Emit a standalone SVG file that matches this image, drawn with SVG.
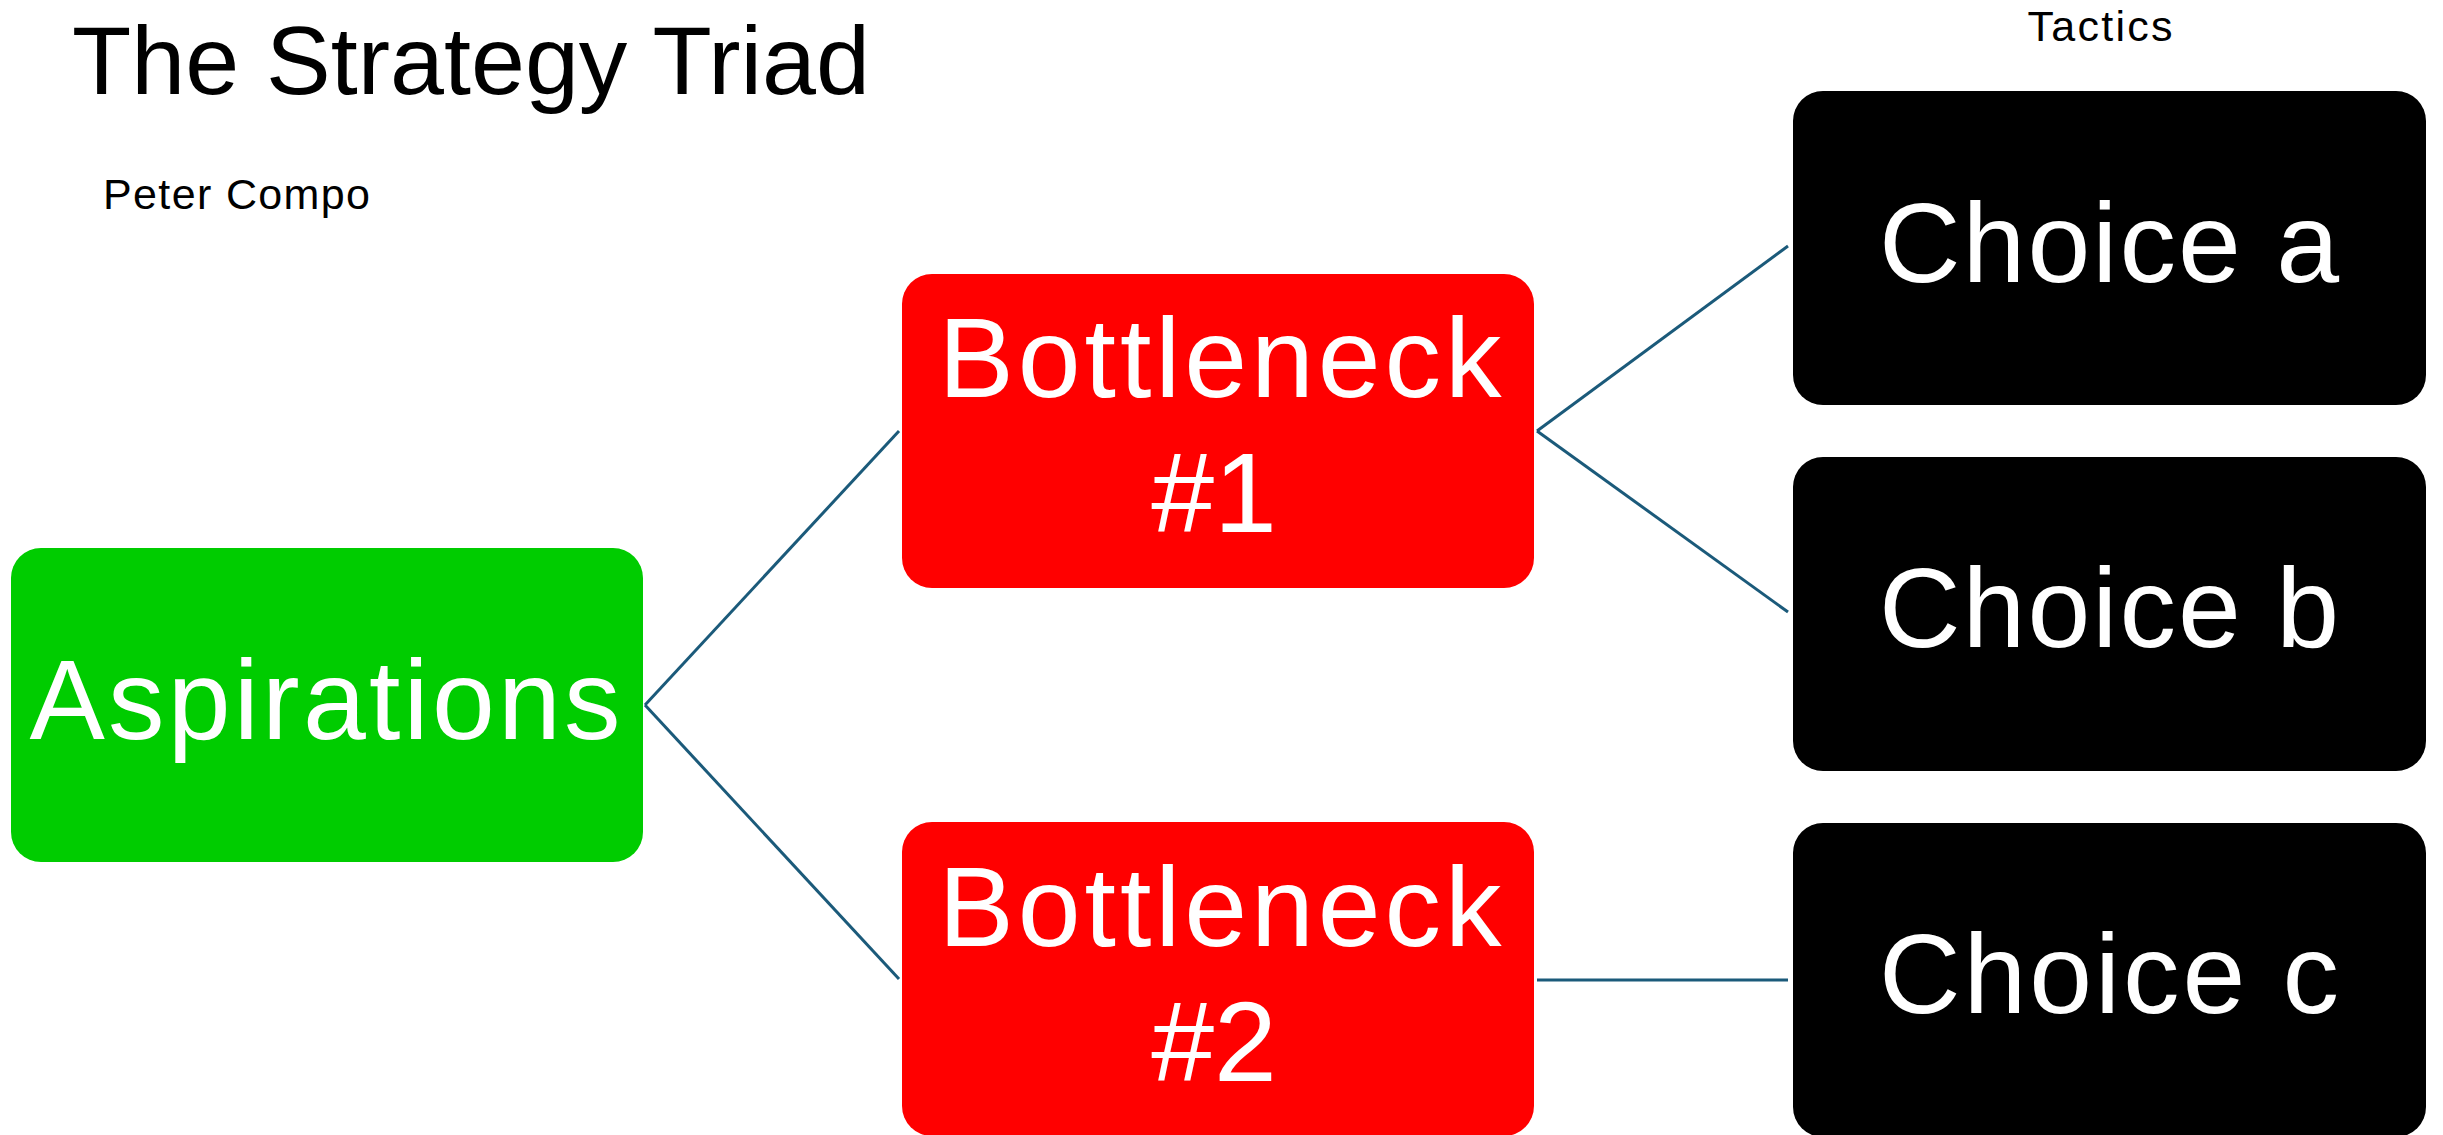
<svg xmlns="http://www.w3.org/2000/svg" width="2443" height="1135" viewBox="0 0 2443 1135">
<style>
.t{font-family:"Liberation Sans",Arial,sans-serif;}
.lbl{font-family:"Liberation Sans",Arial,sans-serif;font-size:113px;fill:#fff;text-anchor:middle;}
.conn{stroke:#1B5A7A;stroke-width:3;fill:none;}
</style>
<rect width="2443" height="1135" fill="#fff"/>
<text class="t" x="103" y="94" font-size="97" fill="#000" dx="-31">The Strategy Triad</text>
<text class="t" x="103" y="209" font-size="43" fill="#000" textLength="267">Peter Compo</text>
<text class="t" x="2100" y="41" font-size="43" fill="#000" text-anchor="middle" textLength="145">Tactics</text>
<g id="connectors">
<line class="conn" x1="645" y1="705" x2="899" y2="431"/>
<line class="conn" x1="645" y1="705" x2="899" y2="979"/>
<line class="conn" x1="1537" y1="431" x2="1788" y2="246"/>
<line class="conn" x1="1537" y1="431" x2="1788" y2="612"/>
<line class="conn" x1="1537" y1="980" x2="1788" y2="980"/>
</g>
<g id="aspirations">
<rect x="11" y="548" width="632" height="314" rx="30" fill="#00CC00"/>
<text class="lbl" x="325" y="739" textLength="591">Aspirations</text>
</g>
<g id="bottleneck1">
<rect x="902" y="274" width="632" height="314" rx="30" fill="#FF0000"/>
<text class="lbl" x="1220" y="397" textLength="563">Bottleneck</text>
<text class="lbl" x="1214" y="532">#1</text>
</g>
<g id="bottleneck2">
<rect x="902" y="822" width="632" height="314" rx="30" fill="#FF0000"/>
<text class="lbl" x="1220" y="946" textLength="563">Bottleneck</text>
<text class="lbl" x="1214" y="1081">#2</text>
</g>
<g id="choice-a">
<rect x="1793" y="91" width="633" height="314" rx="30" fill="#000"/>
<text class="lbl" x="2109" y="282" textLength="460">Choice a</text>
</g>
<g id="choice-b">
<rect x="1793" y="457" width="633" height="314" rx="30" fill="#000"/>
<text class="lbl" x="2109" y="647" textLength="460">Choice b</text>
</g>
<g id="choice-c">
<rect x="1793" y="823" width="633" height="314" rx="30" fill="#000"/>
<text class="lbl" x="2109" y="1013" textLength="460">Choice c</text>
</g>
</svg>
